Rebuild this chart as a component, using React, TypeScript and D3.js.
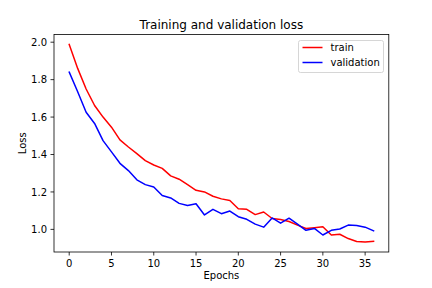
import { useEffect } from "react";
import * as d3 from "d3";

const epochs = d3.range(0, 37);
const trainLoss = [
  1.988, 1.86, 1.75, 1.662, 1.6, 1.546, 1.478, 1.44, 1.405, 1.367, 1.344,
  1.326, 1.286, 1.268, 1.239, 1.209, 1.2, 1.177, 1.163, 1.154, 1.11, 1.107,
  1.079, 1.093, 1.058, 1.053, 1.042, 1.023, 1.005, 1.009, 1.014, 0.97, 0.974,
  0.951, 0.935, 0.932, 0.936,
];
const valLoss = [
  1.84, 1.735, 1.626, 1.566, 1.474, 1.414, 1.353, 1.314, 1.265, 1.239, 1.226,
  1.181, 1.168, 1.139, 1.128, 1.137, 1.077, 1.107, 1.084, 1.098, 1.068, 1.054,
  1.028, 1.012, 1.061, 1.033, 1.06, 1.028, 0.995, 1.005, 0.97, 0.995, 1.002,
  1.023, 1.021, 1.012, 0.992,
];
const xTicks = [0, 5, 10, 15, 20, 25, 30, 35];
const yTicks = [1.0, 1.2, 1.4, 1.6, 1.8, 2.0];
const seriesNames = ["train", "validation"];
const seriesColors = ["red", "blue"];

const width = 432;
const height = 288;
const margin = { top: 34.56, right: 43.2, bottom: 36, left: 54 };
const font = "DejaVu Sans, sans-serif";

const App = () => {
  useEffect(() => {
    document.body.style.margin = "0";
  }, []);

  const innerW = width - margin.left - margin.right;
  const innerH = height - margin.top - margin.bottom;

  const xPad = (36 - 0) * 0.05;
  const x = d3
    .scaleLinear()
    .domain([-xPad, 36 + xPad])
    .range([margin.left, margin.left + innerW]);

  const all = trainLoss.concat(valLoss);
  const [lo, hi] = d3.extent(all) as [number, number];
  const yPad = (hi - lo) * 0.05;
  const y = d3
    .scaleLinear()
    .domain([lo - yPad, hi + yPad])
    .range([margin.top + innerH, margin.top]);

  const line = d3
    .line<number>()
    .x((_, i) => x(epochs[i]))
    .y((d) => y(d));

  const series = [trainLoss, valLoss];
  const bottom = margin.top + innerH;
  const right = margin.left + innerW;

  return (
    <svg
      width={width}
      height={height}
      style={{ display: "block", background: "#fff" }}
      fontFamily={font}
    >
      <rect width={width} height={height} fill="#fff" />
      {series.map((s, i) => (
        <path
          key={seriesNames[i]}
          d={line(s) ?? ""}
          fill="none"
          stroke={seriesColors[i]}
          strokeWidth={1.5}
          strokeLinejoin="round"
          strokeLinecap="square"
        />
      ))}
      <rect
        x={margin.left}
        y={margin.top}
        width={innerW}
        height={innerH}
        fill="none"
        stroke="#000"
        strokeWidth={0.8}
      />
      {xTicks.map((t) => (
        <g key={"x" + t}>
          <line x1={x(t)} x2={x(t)} y1={bottom} y2={bottom + 3.5} stroke="#000" strokeWidth={0.8} />
          <text x={x(t)} y={bottom + 14.5} textAnchor="middle" fontSize={10} fill="#000">
            {t}
          </text>
        </g>
      ))}
      {yTicks.map((t) => (
        <g key={"y" + t}>
          <line x1={margin.left - 3.5} x2={margin.left} y1={y(t)} y2={y(t)} stroke="#000" strokeWidth={0.8} />
          <text x={margin.left - 7} y={y(t) + 3.6} textAnchor="end" fontSize={10} fill="#000">
            {t.toFixed(1)}
          </text>
        </g>
      ))}
      <text x={(margin.left + right) / 2} y={28.5} textAnchor="middle" fontSize={12} fill="#000">
        Training and validation loss
      </text>
      <text x={(margin.left + right) / 2} y={279} textAnchor="middle" fontSize={10} fill="#000">
        Epochs
      </text>
      <text
        transform={`translate(25.5, ${(margin.top + bottom) / 2}) rotate(-90)`}
        textAnchor="middle"
        fontSize={10}
        fill="#000"
      >
        Loss
      </text>
      <g>
        <rect
          x={298.5}
          y={40.5}
          width={85}
          height={32}
          rx={2}
          fill="#fff"
          fillOpacity={0.8}
          stroke="#ccc"
          strokeWidth={0.8}
        />
        {seriesNames.map((n, i) => (
          <g key={"lg" + n}>
            <line
              x1={302.5}
              x2={322.5}
              y1={47.5 + i * 15}
              y2={47.5 + i * 15}
              stroke={seriesColors[i]}
              strokeWidth={1.5}
            />
            <text x={330.5} y={51 + i * 15} fontSize={10} fill="#000">
              {n}
            </text>
          </g>
        ))}
      </g>
    </svg>
  );
};

export default App;
